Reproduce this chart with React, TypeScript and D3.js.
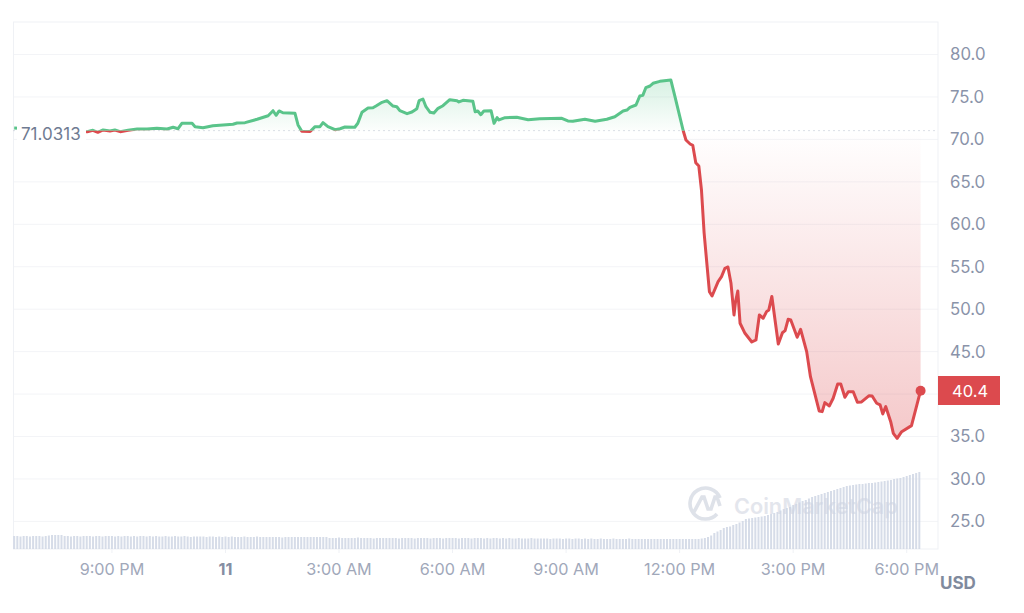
import * as d3 from 'd3'
import { useEffect, useRef } from 'react'

const WIDTH = 1024
const HEIGHT = 613

// hours relative to midnight on the 11th
const hours = [
  -5.57, -3.64, -3.49, -3.36, -3.22, -3.04, -2.91, -2.77, -2.56, -2.32, -2.06, -1.8, -1.53, -1.37, -1.24, -1.14, -0.87,
  -0.79, -0.58, -0.32, -0.05, 0.21, 0.32, 0.53, 0.85, 1.14, 1.27, 1.35, 1.43, 1.53, 1.85, 1.93, 2.03, 2.25, 2.38, 2.51,
  2.59, 2.72, 2.91, 3.04, 3.17, 3.43, 3.51, 3.62, 3.78, 3.91, 3.99, 4.15, 4.28, 4.44, 4.54, 4.62, 4.81, 4.94, 5.07,
  5.13, 5.23, 5.31, 5.42, 5.52, 5.63, 5.76, 5.94, 6.13, 6.18, 6.29, 6.55, 6.61, 6.68, 6.76, 6.84, 7.03, 7.11, 7.19,
  7.24, 7.4, 7.71, 8.01, 8.32, 8.9, 9.06, 9.19, 9.51, 9.78, 10.09, 10.3, 10.52, 10.62, 10.7, 10.86, 10.96, 11.04,
  11.12, 11.23, 11.31, 11.49, 11.78, 11.89, 12.11, 12.18, 12.29, 12.36, 12.44, 12.52, 12.59, 12.66, 12.74, 12.8,
  12.87, 13.03, 13.12, 13.21, 13.29, 13.37, 13.45, 13.49, 13.55, 13.61, 13.74, 13.92, 14.03, 14.12, 14.22, 14.31,
  14.37, 14.45, 14.62, 14.73, 14.8, 14.88, 14.95, 15.12, 15.21, 15.37, 15.47, 15.7, 15.78, 15.85, 15.97, 16.07, 16.19,
  16.27, 16.38, 16.47, 16.6, 16.71, 16.82, 17.02, 17.1, 17.22, 17.31, 17.38, 17.46, 17.59, 17.66, 17.76, 17.88, 18.14,
  18.38,
]

const prices = [
  71.34, 70.91, 71.07, 70.84, 71.11, 70.99, 71.11, 70.91, 71.07, 71.22, 71.22, 71.31, 71.22, 71.43, 71.26, 71.9, 71.9,
  71.5, 71.38, 71.61, 71.7, 71.78, 71.93, 71.97, 72.37, 72.79, 73.38, 72.84, 73.35, 73.14, 73.07, 71.7, 70.95, 70.93,
  71.5, 71.5, 71.97, 71.5, 71.14, 71.26, 71.46, 71.43, 71.9, 73.19, 73.7, 73.73, 73.93, 74.37, 74.56, 73.93, 73.85,
  73.38, 73.03, 73.23, 73.62, 74.56, 74.76, 73.85, 73.19, 73.11, 73.66, 73.97, 74.68, 74.56, 74.41, 74.61, 74.49,
  73.26, 73.35, 72.91, 73.35, 73.38, 71.9, 72.56, 72.29, 72.56, 72.6, 72.32, 72.44, 72.49, 72.17, 72.13, 72.37, 72.13,
  72.37, 72.67, 73.35, 73.46, 73.78, 74.05, 75.11, 75.19, 76.09, 76.29, 76.61, 76.84, 77.0, 75.03, 70.99, 69.93,
  69.46, 69.3, 67.26, 66.87, 64.04, 58.98, 55.01, 52.06, 51.55, 53.24, 53.83, 54.82, 54.97, 53.05, 49.32, 50.88, 52.14,
  48.34, 47.16, 46.14, 46.37, 49.32, 48.93, 49.71, 49.91, 51.5, 45.9, 47.23, 47.47, 48.81, 48.73, 46.69, 47.63, 45.0,
  42.05, 38.01, 37.93, 38.99, 38.6, 39.51, 41.19, 41.19, 39.62, 40.28, 40.28, 39.03, 39.07, 39.81, 39.78, 38.92, 38.72,
  37.66, 38.52, 36.75, 35.38, 34.79, 35.57, 36.28, 40.4,
]

// one bar every 5 minutes, 24 hours
const volumes = [
  13, 13, 12.5, 13, 13, 12.5, 13, 13, 13, 12.5, 13, 13.5,
  14, 14, 14, 14, 13, 13, 12.5, 13, 13, 12.5, 13, 13,
  13, 12.5, 13, 13, 12.5, 13, 13, 13, 12.5, 13, 12.5, 13,
  13, 12.5, 13, 12.5, 13, 13, 12.5, 13, 12.5, 13, 12.5, 12.5,
  13, 12.5, 12.5, 13, 12.5, 12.5, 13, 12.5, 12, 12.5, 12.5, 12.5,
  12.5, 12, 12.5, 12.5, 12, 12.5, 12, 12.5, 12, 12.5, 12, 12,
  12, 12.5, 12, 12, 12, 12.5, 12, 12, 12, 12, 12, 12,
  12, 11.5, 12, 12, 12, 12, 12, 12, 12, 12, 12, 12,
  12, 12, 12, 12, 11, 11, 11, 11.5, 11, 11, 11, 11,
  11, 11.5, 11, 11, 11, 11, 10.5, 11, 11, 11, 11, 11,
  11, 11, 10.5, 11, 11, 11, 11, 10.5, 11, 11, 11, 11,
  10.5, 11, 11, 11, 10.5, 11, 11, 11, 11, 10.5, 11, 11,
  11, 10.5, 11, 11, 11, 10.5, 11, 10.5, 11, 11, 10.5, 11,
  10.5, 11, 10.5, 10.5, 11, 10.5, 10.5, 10.5, 11, 10.5, 10.5, 10.5,
  10.5, 10.5, 10, 10.5, 10.5, 10.5, 10, 10.5, 10.5, 10, 10.5, 10.5,
  10, 10.5, 10, 10.5, 10, 10, 10.5, 10, 10, 10, 10.5, 10,
  10, 10, 10, 10.5, 10, 10, 10, 10, 10, 10, 10, 10,
  10, 10, 10, 10, 10, 10, 10, 10, 10, 10, 10, 10,
  10, 10, 10.5, 11, 12, 13.5, 16, 17.5, 19, 21, 22, 22.5,
  24, 25, 26.5, 28, 30, 30.5, 31, 31.5, 32, 32.5, 33, 34,
  35, 36, 37, 38.5, 40, 41, 42, 44, 45, 46.5, 48, 49,
  50.5, 52, 53, 54, 55, 56, 57, 58, 59, 60, 61, 62,
  63, 63.5, 64, 64.5, 65, 65, 65.5, 66, 66, 66.5, 67, 67.5,
  68, 68.5, 69, 70, 70.5, 71, 72, 73, 74, 75, 76, 77,
]

const priceTicks = [80, 75, 70, 65, 60, 55, 50, 45, 40, 35, 30, 25]
const hourTicks = [-3, 0, 3, 6, 9, 12, 15, 18]
const hourLabels = ['9:00 PM', '11', '3:00 AM', '6:00 AM', '9:00 AM', '12:00 PM', '3:00 PM', '6:00 PM']

const basePrice = 71.0313
const lastPrice = 40.4
const GREEN = '#5ac48a'
const RED = '#dc4a4e'
const GRID = '#f3f4f7'
const FONT = 'Inter, sans-serif'

export default function App() {
  const svgRef = useRef<SVGSVGElement>(null)

  useEffect(() => {
    if (!svgRef.current) return
    const svg = d3.select(svgRef.current)
    svg.selectAll('*').remove()

    const left = 13.5
    const right = 938
    const top = 22
    const bottom = 549

    const x = d3.scaleLinear().domain([-5.588, 18.84]).range([left, right])
    const y = d3.scaleLinear().domain([21.75, 83.83]).range([bottom, top])
    const v = d3.scaleLinear().domain([0, 77]).range([bottom, 472])

    const points = hours.map((h, i) => ({ h, p: prices[i] }))
    const baseY = y(basePrice)

    const defs = svg.append('defs')
    const gradient = (id: string, color: string, y1: number, y2: number, o1: number, o2: number) => {
      const g = defs
        .append('linearGradient')
        .attr('id', id)
        .attr('gradientUnits', 'userSpaceOnUse')
        .attr('x1', 0)
        .attr('x2', 0)
        .attr('y1', y1)
        .attr('y2', y2)
      g.append('stop').attr('offset', 0).attr('stop-color', color).attr('stop-opacity', o1)
      g.append('stop').attr('offset', 1).attr('stop-color', color).attr('stop-opacity', o2)
    }
    gradient('fill-up', GREEN, y(77), baseY, 0.24, 0.02)
    gradient('fill-down', RED, baseY, y(34.8), 0, 0.3)

    defs.append('clipPath').attr('id', 'clip-up').append('rect').attr('x', 0).attr('y', 0).attr('width', WIDTH).attr('height', baseY)
    defs.append('clipPath').attr('id', 'clip-down').append('rect').attr('x', 0).attr('y', baseY).attr('width', WIDTH).attr('height', HEIGHT - baseY)

    // frame and grid
    svg
      .append('g')
      .selectAll('line')
      .data(priceTicks)
      .join('line')
      .attr('x1', left)
      .attr('x2', right)
      .attr('y1', (d) => y(d))
      .attr('y2', (d) => y(d))
      .attr('stroke', GRID)
    svg
      .append('rect')
      .attr('x', left)
      .attr('y', top)
      .attr('width', right - left)
      .attr('height', bottom - top)
      .attr('fill', 'none')
      .attr('stroke', '#eff1f5')

    // watermark
    const mark = svg.append('g').attr('opacity', 0.85)
    mark
      .append('path')
      .attr('d', 'M717 514 A15.5 15.5 0 1 1 720 498 M694 512 L702 497 L704 497 L708 509 L711 509 L715 497 L717 497 L720 506')
      .attr('fill', 'none')
      .attr('stroke', '#d9dde6')
      .attr('stroke-width', 3.6)
    mark
      .append('text')
      .attr('x', 734)
      .attr('y', 513.5)
      .attr('font-family', FONT)
      .attr('font-size', 21.7)
      .attr('font-weight', 600)
      .attr('fill', '#dfe2ea')
      .text('CoinMarketCap')

    // volume
    svg
      .append('g')
      .selectAll('rect')
      .data(volumes)
      .join('rect')
      .attr('x', (_, i) => x(-5.57 + (i * 5) / 60) - 1)
      .attr('y', (d) => v(d))
      .attr('width', 2)
      .attr('height', (d) => bottom - v(d))
      .attr('fill', '#ccd3e2')
      .attr('opacity', 0.8)

    // baseline
    svg
      .append('line')
      .attr('x1', left)
      .attr('x2', right)
      .attr('y1', baseY)
      .attr('y2', baseY)
      .attr('stroke', '#b6bdcb')
      .attr('stroke-dasharray', '1 4')

    // price area and line, split at the base price
    const area = d3
      .area<{ h: number; p: number }>()
      .x((d) => x(d.h))
      .y0(baseY)
      .y1((d) => y(d.p))
    const line = d3
      .line<{ h: number; p: number }>()
      .x((d) => x(d.h))
      .y((d) => y(d.p))
    svg.append('path').datum(points).attr('d', area).attr('fill', 'url(#fill-up)').attr('clip-path', 'url(#clip-up)')
    svg.append('path').datum(points).attr('d', area).attr('fill', 'url(#fill-down)').attr('clip-path', 'url(#clip-down)')
    const drawLine = (color: string, clip: string) =>
      svg
        .append('path')
        .datum(points)
        .attr('d', line)
        .attr('fill', 'none')
        .attr('stroke', color)
        .attr('stroke-width', 3)
        .attr('stroke-linejoin', 'round')
        .attr('clip-path', `url(#${clip})`)
    drawLine(GREEN, 'clip-up')
    drawLine(RED, 'clip-down')

    svg
      .append('circle')
      .attr('cx', x(hours[hours.length - 1]))
      .attr('cy', y(lastPrice))
      .attr('r', 5)
      .attr('fill', RED)

    // base price label sits over the start of the line
    svg.append('rect').attr('x', 17).attr('y', 119).attr('width', 69).attr('height', 28).attr('fill', '#fff')
    svg
      .append('text')
      .attr('x', 21)
      .attr('y', 139.5)
      .attr('font-family', FONT)
      .attr('font-size', 17)
      .attr('fill', '#6f7b92')
      .text('71.0313')

    // axes
    const yAxis = d3
      .axisRight(y)
      .tickValues(priceTicks.filter((d) => d !== 40))
      .tickSize(0)
      .tickPadding(12)
      .tickFormat(d3.format('.1f') as any)
    svg
      .append('g')
      .attr('transform', `translate(${right},0)`)
      .call(yAxis)
      .call((s) => s.select('.domain').remove())
      .call((s) => s.selectAll('text').attr('fill', '#8a93a9').attr('font-size', 16.8).attr('font-family', FONT))

    const xAxis = d3
      .axisBottom(x)
      .tickValues(hourTicks)
      .tickSize(4)
      .tickPadding(10)
      .tickFormat((_, i) => hourLabels[i])
    svg
      .append('g')
      .attr('transform', `translate(0,${bottom})`)
      .call(xAxis)
      .call((s) => s.select('.domain').remove())
      .call((s) => s.selectAll('line').attr('stroke', '#eff1f5'))
      .call((s) =>
        s
          .selectAll<SVGTextElement, number>('text')
          .attr('fill', (d) => (d === 0 ? '#858ea3' : '#a1a8ba'))
          .attr('font-weight', (d) => (d === 0 ? 700 : 400))
          .attr('font-size', 16.2)
          .attr('font-family', FONT),
      )

    // last price tag
    svg.append('rect').attr('x', right).attr('y', 376).attr('width', 62).attr('height', 29).attr('fill', RED)
    svg
      .append('text')
      .attr('x', 952)
      .attr('y', 396.5)
      .attr('font-family', FONT)
      .attr('font-size', 16.5)
      .attr('fill', '#fff')
      .text(lastPrice.toFixed(1))

    svg
      .append('text')
      .attr('x', 940)
      .attr('y', 589)
      .attr('font-family', FONT)
      .attr('font-size', 17)
      .attr('font-weight', 700)
      .attr('fill', '#808a9d')
      .text('USD')
  }, [])

  return (
    <div style={{ position: 'absolute', left: 0, top: 0, width: WIDTH, height: HEIGHT, background: '#fff' }}>
      <svg ref={svgRef} width={WIDTH} height={HEIGHT} viewBox={`0 0 ${WIDTH} ${HEIGHT}`} style={{ display: 'block' }} />
    </div>
  )
}
